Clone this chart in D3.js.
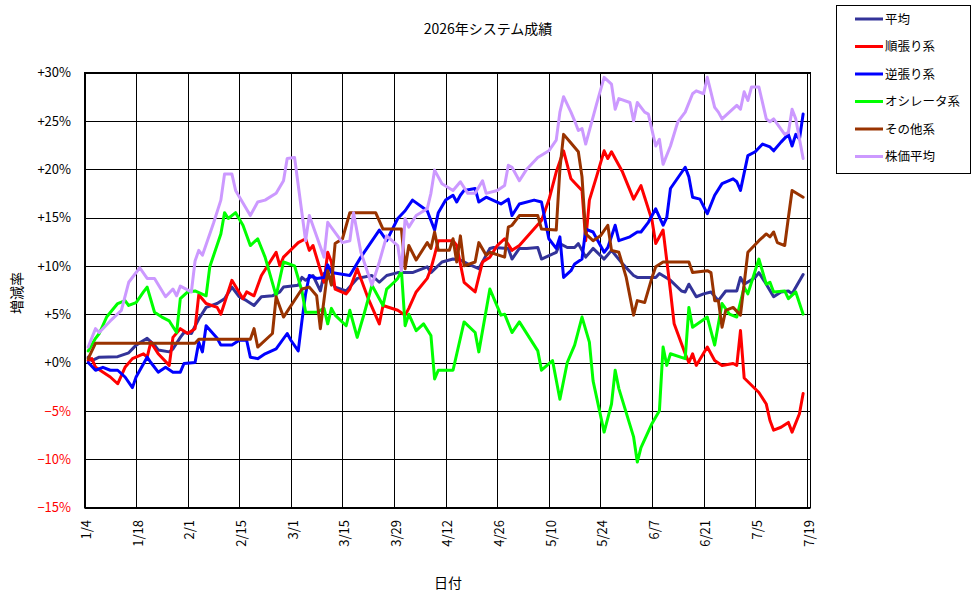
<!DOCTYPE html>
<html><head><meta charset="utf-8">
<script src="https://cdn.jsdelivr.net/npm/d3@7/dist/d3.min.js"></script>
<style>body{margin:0;background:#fff}svg{display:block}</style>
</head><body>
<svg id="chart" width="976" height="599"></svg>
<script>
const chartTitle = "2026年システム成績";
const xTitle = "日付";
const yTitle = "増減率";
const seriesNames = ["平均","順張り系","逆張り系","オシレータ系","その他系","株価平均"];
const seriesColors = ["#333399","#FF0000","#0000FF","#00FF00","#993300","#CC99FF"];
const yTicks = [-15,-10,-5,0,5,10,15,20,25,30];
const xTickLabels = ["1/4","1/18","2/1","2/15","3/1","3/15","3/29","4/12","4/26","5/10","5/24","6/7","6/21","7/5","7/19"];
const xDomain = ["1/4","7/20"];

const avgData = [["1/5",0.55],["1/6",0.2],["1/8",0.55],["1/13",0.6],["1/16",1.0],["1/18",1.8],["1/21",2.5],["1/23",1.8],["1/24",1.3],["1/27",1.1],["1/28",1.4],["1/30",2.6],["1/31",3.1],["2/2",3.0],["2/4",4.5],["2/6",5.7],["2/9",6.1],["2/11",6.6],["2/13",7.8],["2/15",6.8],["2/17",6.4],["2/19",5.9],["2/21",6.8],["2/24",6.9],["2/26",7.3],["2/27",7.8],["3/3",8.0],["3/4",8.8],["3/5",8.5],["3/7",9.0],["3/9",7.4],["3/10",9.2],["3/11",9.0],["3/13",7.8],["3/16",7.4],["3/19",8.7],["3/23",9.0],["3/25",8.3],["3/27",9.0],["3/30",9.3],["4/3",9.3],["4/7",9.9],["4/8",9.3],["4/11",10.4],["4/14",10.7],["4/16",10.6],["4/18",10.2],["4/21",9.7],["4/24",11.8],["4/25",11.9],["4/29",11.8],["4/30",10.7],["5/2",11.8],["5/4",11.8],["5/7",11.9],["5/8",10.7],["5/12",11.4],["5/13",12.3],["5/15",11.9],["5/17",11.9],["5/18",12.3],["5/20",10.9],["5/22",11.8],["5/25",10.7],["5/27",11.6],["5/30",10.2],["6/2",9.0],["6/3",8.8],["6/6",8.8],["6/8",8.8],["6/9",9.2],["6/12",8.5],["6/15",7.4],["6/16",7.3],["6/17",8.1],["6/19",6.8],["6/21",7.1],["6/23",7.3],["6/25",6.4],["6/27",7.4],["6/30",7.4],["7/1",8.8],["7/2",8.1],["7/5",8.8],["7/6",9.3],["7/8",8.1],["7/10",6.8],["7/12",7.3],["7/14",7.4],["7/15",7.1],["7/18",9.1]];

const trendData = [["1/5",0.2],["1/6",0.4],["1/7",-0.5],["1/11",-1.5],["1/13",-2.2],["1/15",-0.5],["1/17",0.4],["1/20",0.9],["1/21",0.55],["1/22",2.1],["1/24",0.9],["1/27",-0.3],["1/28",2.6],["1/30",3.5],["2/1",3.0],["2/3",3.5],["2/4",7.0],["2/6",6.1],["2/9",5.7],["2/10",5.0],["2/13",8.5],["2/16",6.6],["2/17",7.3],["2/19",6.9],["2/21",9.0],["2/25",11.4],["2/26",10.0],["2/27",10.9],["3/3",12.4],["3/5",12.8],["3/6",11.6],["3/7",12.1],["3/10",8.3],["3/11",11.4],["3/12",10.4],["3/13",7.6],["3/16",7.1],["3/17",7.6],["3/19",9.7],["3/22",6.6],["3/25",4.0],["3/26",5.9],["3/30",5.4],["4/1",4.9],["4/2",5.6],["4/4",7.3],["4/7",8.7],["4/8",9.7],["4/9",11.1],["4/10",12.6],["4/14",12.6],["4/15",12.1],["4/17",8.3],["4/20",7.3],["4/22",10.4],["4/24",10.9],["4/26",12.1],["4/28",12.8],["4/30",11.6],["5/2",12.1],["5/8",14.7],["5/10",16.8],["5/12",19.7],["5/14",21.9],["5/16",19.0],["5/17",18.6],["5/19",17.8],["5/20",12.6],["5/21",16.8],["5/23",19.3],["5/25",21.9],["5/26",21.1],["5/27",21.8],["5/29",20.4],["5/30",19.7],["6/2",16.9],["6/4",18.3],["6/5",17.1],["6/7",14.7],["6/8",12.3],["6/10",13.7],["6/12",7.4],["6/13",4.0],["6/16",0.9],["6/17",0.0],["6/18",0.9],["6/19",-0.3],["6/22",1.6],["6/24",0.2],["6/26",-0.3],["6/29",-0.1],["6/30",-0.3],["7/1",3.3],["7/2",-1.6],["7/6",-3.1],["7/8",-4.3],["7/9",-6.0],["7/10",-7.0],["7/12",-6.7],["7/14",-6.2],["7/15",-7.2],["7/17",-5.3],["7/18",-3.2]];

const contraData = [["1/5",0.0],["1/7",-0.8],["1/9",-0.5],["1/11",-0.8],["1/13",-0.8],["1/15",-1.5],["1/17",-2.6],["1/18",-1.5],["1/21",0.55],["1/22",0.0],["1/24",-1.0],["1/26",-0.5],["1/28",-1.0],["1/30",-1.0],["1/31",-0.1],["2/3",0.0],["2/4",2.1],["2/5",1.1],["2/6",3.8],["2/9",2.5],["2/10",1.8],["2/13",1.8],["2/15",2.3],["2/17",2.3],["2/18",0.55],["2/20",0.4],["2/22",0.9],["2/25",1.4],["2/28",3.0],["3/1",2.3],["3/3",1.2],["3/4",4.3],["3/5",7.1],["3/6",9.0],["3/8",8.7],["3/10",8.8],["3/11",10.1],["3/12",9.3],["3/17",9.0],["3/20",10.9],["3/25",13.7],["3/27",12.6],["3/30",14.9],["4/1",15.7],["4/3",16.8],["4/7",15.7],["4/9",13.7],["4/10",15.5],["4/12",16.8],["4/14",17.3],["4/15",16.6],["4/16",17.3],["4/17",17.8],["4/20",18.0],["4/21",16.6],["4/23",17.1],["4/27",16.4],["4/29",16.9],["4/30",15.2],["5/2",16.4],["5/6",16.8],["5/8",16.6],["5/10",12.8],["5/12",11.8],["5/13",13.0],["5/14",8.8],["5/16",9.5],["5/17",10.2],["5/19",10.7],["5/20",13.8],["5/22",13.5],["5/25",11.4],["5/26",11.9],["5/28",14.2],["5/29",12.6],["6/1",13.0],["6/3",13.5],["6/4",13.5],["6/6",14.5],["6/8",15.9],["6/10",14.2],["6/11",15.0],["6/12",18.0],["6/16",20.2],["6/17",19.2],["6/18",17.1],["6/20",16.9],["6/22",15.4],["6/24",17.3],["6/26",18.5],["6/29",19.0],["6/30",18.7],["7/1",17.8],["7/3",21.4],["7/5",21.8],["7/7",22.6],["7/9",22.3],["7/10",21.9],["7/12",22.8],["7/14",23.6],["7/15",22.4],["7/16",23.6],["7/17",23.1],["7/18",25.7]];

const oscData = [["1/5",1.2],["1/7",2.5],["1/8",3.0],["1/10",4.7],["1/13",6.1],["1/15",6.4],["1/16",5.9],["1/18",6.2],["1/20",7.3],["1/21",7.8],["1/23",5.2],["1/25",4.7],["1/27",4.3],["1/29",3.1],["1/30",6.6],["2/1",7.3],["2/3",7.4],["2/6",6.9],["2/7",9.9],["2/10",13.3],["2/11",15.5],["2/12",14.9],["2/14",15.5],["2/16",14.2],["2/18",12.1],["2/20",12.8],["2/22",10.9],["2/25",6.9],["2/27",10.4],["3/2",10.0],["3/4",7.4],["3/5",5.2],["3/8",5.2],["3/10",5.6],["3/11",4.0],["3/12",5.6],["3/13",4.9],["3/16",3.8],["3/17",5.4],["3/19",2.6],["3/21",5.2],["3/23",8.0],["3/26",5.9],["3/27",7.6],["3/29",8.3],["3/30",8.7],["3/31",9.5],["4/1",3.8],["4/2",5.0],["4/4",3.3],["4/6",4.0],["4/8",2.8],["4/9",-1.7],["4/10",-0.8],["4/14",-0.8],["4/17",4.2],["4/20",3.1],["4/21",1.1],["4/24",7.6],["4/27",4.9],["4/28",5.0],["4/30",3.1],["5/2",4.2],["5/7",1.2],["5/8",-0.8],["5/11",0.2],["5/13",-3.8],["5/15",0.0],["5/17",1.8],["5/19",4.7],["5/21",2.1],["5/22",-1.9],["5/25",-7.2],["5/27",-4.3],["5/28",-0.8],["5/29",-2.7],["6/2",-7.7],["6/3",-10.3],["6/4",-8.8],["6/7",-6.3],["6/9",-5.0],["6/10",1.6],["6/11",-0.3],["6/12",0.9],["6/16",0.4],["6/17",5.7],["6/18",3.65],["6/22",4.7],["6/24",1.8],["6/26",6.1],["6/28",5.0],["6/30",4.7],["7/2",7.8],["7/3",7.1],["7/6",10.7],["7/8",8.1],["7/9",8.3],["7/10",7.3],["7/13",7.4],["7/14",6.6],["7/16",7.3],["7/18",5.0]];

const otherData = [["1/5",0.4],["1/7",2.0],["2/3",2.0],["2/4",2.4],["2/18",2.4],["2/19",3.5],["2/20",1.6],["2/24",3.0],["2/25",6.8],["2/27",4.7],["3/4",7.6],["3/6",7.8],["3/8",6.9],["3/9",3.5],["3/11",9.5],["3/12",8.0],["3/13",12.3],["3/15",12.8],["3/17",15.5],["3/24",15.5],["3/26",13.8],["3/31",13.8],["4/1",9.7],["4/2",12.1],["4/4",10.6],["4/7",12.4],["4/8",11.8],["4/9",13.5],["4/10",11.6],["4/13",11.6],["4/14",12.8],["4/15",10.4],["4/16",13.1],["4/17",10.0],["4/20",10.4],["4/21",12.4],["4/23",11.1],["4/24",11.4],["4/28",10.9],["4/29",14.0],["4/30",14.2],["5/2",15.2],["5/7",15.2],["5/8",13.8],["5/12",13.7],["5/13",20.0],["5/14",23.6],["5/16",22.7],["5/18",21.8],["5/19",19.2],["5/20",13.3],["5/22",12.6],["5/24",13.1],["5/26",14.2],["5/27",11.6],["5/29",11.4],["5/31",8.8],["6/2",4.9],["6/3",6.4],["6/5",6.2],["6/7",8.8],["6/8",9.9],["6/10",10.4],["6/17",10.4],["6/18",9.3],["6/22",9.5],["6/23",9.3],["6/24",6.4],["6/25",6.4],["6/26",3.65],["6/27",5.4],["6/29",5.7],["7/1",4.9],["7/3",11.4],["7/6",12.6],["7/8",13.3],["7/9",13.0],["7/10",13.5],["7/11",12.4],["7/13",12.1],["7/14",15.0],["7/15",17.8],["7/18",17.1]];

const stockData = [["1/5",1.6],["1/7",3.5],["1/8",3.1],["1/11",4.3],["1/14",5.4],["1/16",8.3],["1/19",9.8],["1/21",8.7],["1/23",8.7],["1/26",6.8],["1/28",7.6],["1/29",6.9],["1/30",7.9],["2/2",7.3],["2/3",10.5],["2/4",11.6],["2/5",11.1],["2/8",14.4],["2/10",16.8],["2/11",19.5],["2/13",19.5],["2/14",17.8],["2/18",15.2],["2/20",16.6],["2/22",16.8],["2/25",17.5],["2/27",18.8],["2/28",21.1],["3/2",21.2],["3/5",12.6],["3/6",15.2],["3/10",10.9],["3/11",14.5],["3/15",12.4],["3/17",12.6],["3/18",15.5],["3/20",11.4],["3/23",8.0],["3/25",10.4],["3/27",13.1],["3/30",12.1],["3/31",9.5],["4/1",14.9],["4/2",14.0],["4/4",15.2],["4/7",15.9],["4/8",17.5],["4/9",19.9],["4/11",18.5],["4/14",17.8],["4/16",18.7],["4/18",17.5],["4/20",17.5],["4/22",18.8],["4/23",17.5],["4/26",17.8],["4/28",18.3],["4/29",20.4],["4/30",20.2],["5/2",18.8],["5/4",20.0],["5/7",21.2],["5/10",21.9],["5/12",23.0],["5/13",25.9],["5/14",27.5],["5/16",25.9],["5/17",25.0],["5/18",24.0],["5/19",24.2],["5/20",22.6],["5/23",26.8],["5/25",29.5],["5/27",28.8],["5/28",26.2],["5/29",27.3],["6/1",26.9],["6/2",25.0],["6/3",26.9],["6/5",25.9],["6/6",25.7],["6/8",22.4],["6/9",23.1],["6/10",20.5],["6/12",22.4],["6/14",24.9],["6/16",25.9],["6/18",27.8],["6/19",28.1],["6/21",27.8],["6/22",29.5],["6/24",26.4],["6/25",25.9],["6/26",25.2],["6/30",26.6],["7/1",26.2],["7/2",28.0],["7/3",27.1],["7/4",28.5],["7/6",28.5],["7/8",25.2],["7/9",24.9],["7/10",25.2],["7/13",23.6],["7/14",23.8],["7/15",26.2],["7/16",25.2],["7/18",21.1]];

const seriesData = [avgData, trendData, contraData, oscData, otherData, stockData];

const FONT = "'Noto Sans CJK JP','Noto Sans',sans-serif";
const parse = s => d3.timeParse("%Y/%m/%d")("2026/" + s);

const svg = d3.select("#chart");
svg.append("rect").attr("width",976).attr("height",599).attr("fill","#fff");

const plot = {left:84.5, right:810.5, top:72.5, bottom:507.5};
const x = d3.scaleTime().domain(xDomain.map(parse)).range([plot.left, plot.right]);
const y = d3.scaleLinear().domain([-15,30]).range([plot.bottom, plot.top]);

// grid
const g = svg.append("g");
g.selectAll("line.h").data(yTicks).join("line")
  .attr("x1",plot.left).attr("x2",plot.right)
  .attr("y1",d=>Math.round(y(d))+0.5).attr("y2",d=>Math.round(y(d))+0.5)
  .attr("stroke","#000").attr("stroke-width",1);
g.selectAll("line.v").data(xTickLabels).join("line")
  .attr("x1",d=>Math.round(x(parse(d)))+0.5).attr("x2",d=>Math.round(x(parse(d)))+0.5)
  .attr("y1",plot.top).attr("y2",plot.bottom)
  .attr("stroke","#000").attr("stroke-width",1);
g.append("rect").attr("x",plot.left).attr("y",plot.top)
  .attr("width",plot.right-plot.left).attr("height",plot.bottom-plot.top)
  .attr("fill","none").attr("stroke","#000").attr("stroke-width",1);

// y tick labels
svg.append("g").selectAll("text").data(yTicks).join("text")
  .attr("x",71).attr("y",d=>y(d)).attr("dy","0.36em")
  .attr("text-anchor","end").attr("font-family",FONT).attr("font-size",13)
  .attr("fill",d=>d<0?"#FF0000":"#000")
  .text(d=>(d<0?"\u2212":"+")+Math.abs(d)+"%");

// x tick labels (rotated)
svg.append("g").selectAll("text").data(xTickLabels).join("text")
  .attr("transform",d=>`translate(${x(parse(d))+2},520) rotate(-90)`)
  .attr("dy","0.36em").attr("text-anchor","end")
  .attr("font-family",FONT).attr("font-size",13).attr("fill","#000")
  .text(d=>d);

// lines
const line = d3.line().x(d=>x(parse(d[0]))).y(d=>y(d[1]));
const clip = svg.append("clipPath").attr("id","clip").append("rect")
  .attr("x",plot.left).attr("y",plot.top-3).attr("width",plot.right-plot.left).attr("height",plot.bottom-plot.top+6);
svg.append("g").attr("clip-path","url(#clip)").selectAll("path").data(seriesData).join("path")
  .attr("d",line).attr("fill","none")
  .attr("stroke",(d,i)=>seriesColors[i]).attr("stroke-width",3)
  .attr("stroke-linejoin","round").attr("stroke-linecap","round");

// titles
svg.append("text").attr("x",488).attr("y",34).attr("text-anchor","middle")
  .attr("font-family",FONT).attr("font-size",14).text(chartTitle);
svg.append("text").attr("x",448).attr("y",588).attr("text-anchor","middle")
  .attr("font-family",FONT).attr("font-size",14).text(xTitle);
svg.append("text").attr("transform","translate(17,293) rotate(-90)").attr("dy","0.36em")
  .attr("text-anchor","middle").attr("font-family",FONT).attr("font-size",14).text(yTitle);

// legend
const lg = svg.append("g");
lg.append("rect").attr("x",836.5).attr("y",5.5).attr("width",134).attr("height",168)
  .attr("fill","#fff").attr("stroke","#000").attr("stroke-width",1);
const rowY = i => 19 + i*27.5;
lg.selectAll("line").data(seriesNames).join("line")
  .attr("x1",855).attr("x2",883).attr("y1",(d,i)=>rowY(i)).attr("y2",(d,i)=>rowY(i))
  .attr("stroke",(d,i)=>seriesColors[i]).attr("stroke-width",3);
lg.selectAll("text").data(seriesNames).join("text")
  .attr("x",885).attr("y",(d,i)=>rowY(i)).attr("dy","0.36em")
  .attr("font-family",FONT).attr("font-size",12.5).text(d=>d);
</script>
</body></html>
